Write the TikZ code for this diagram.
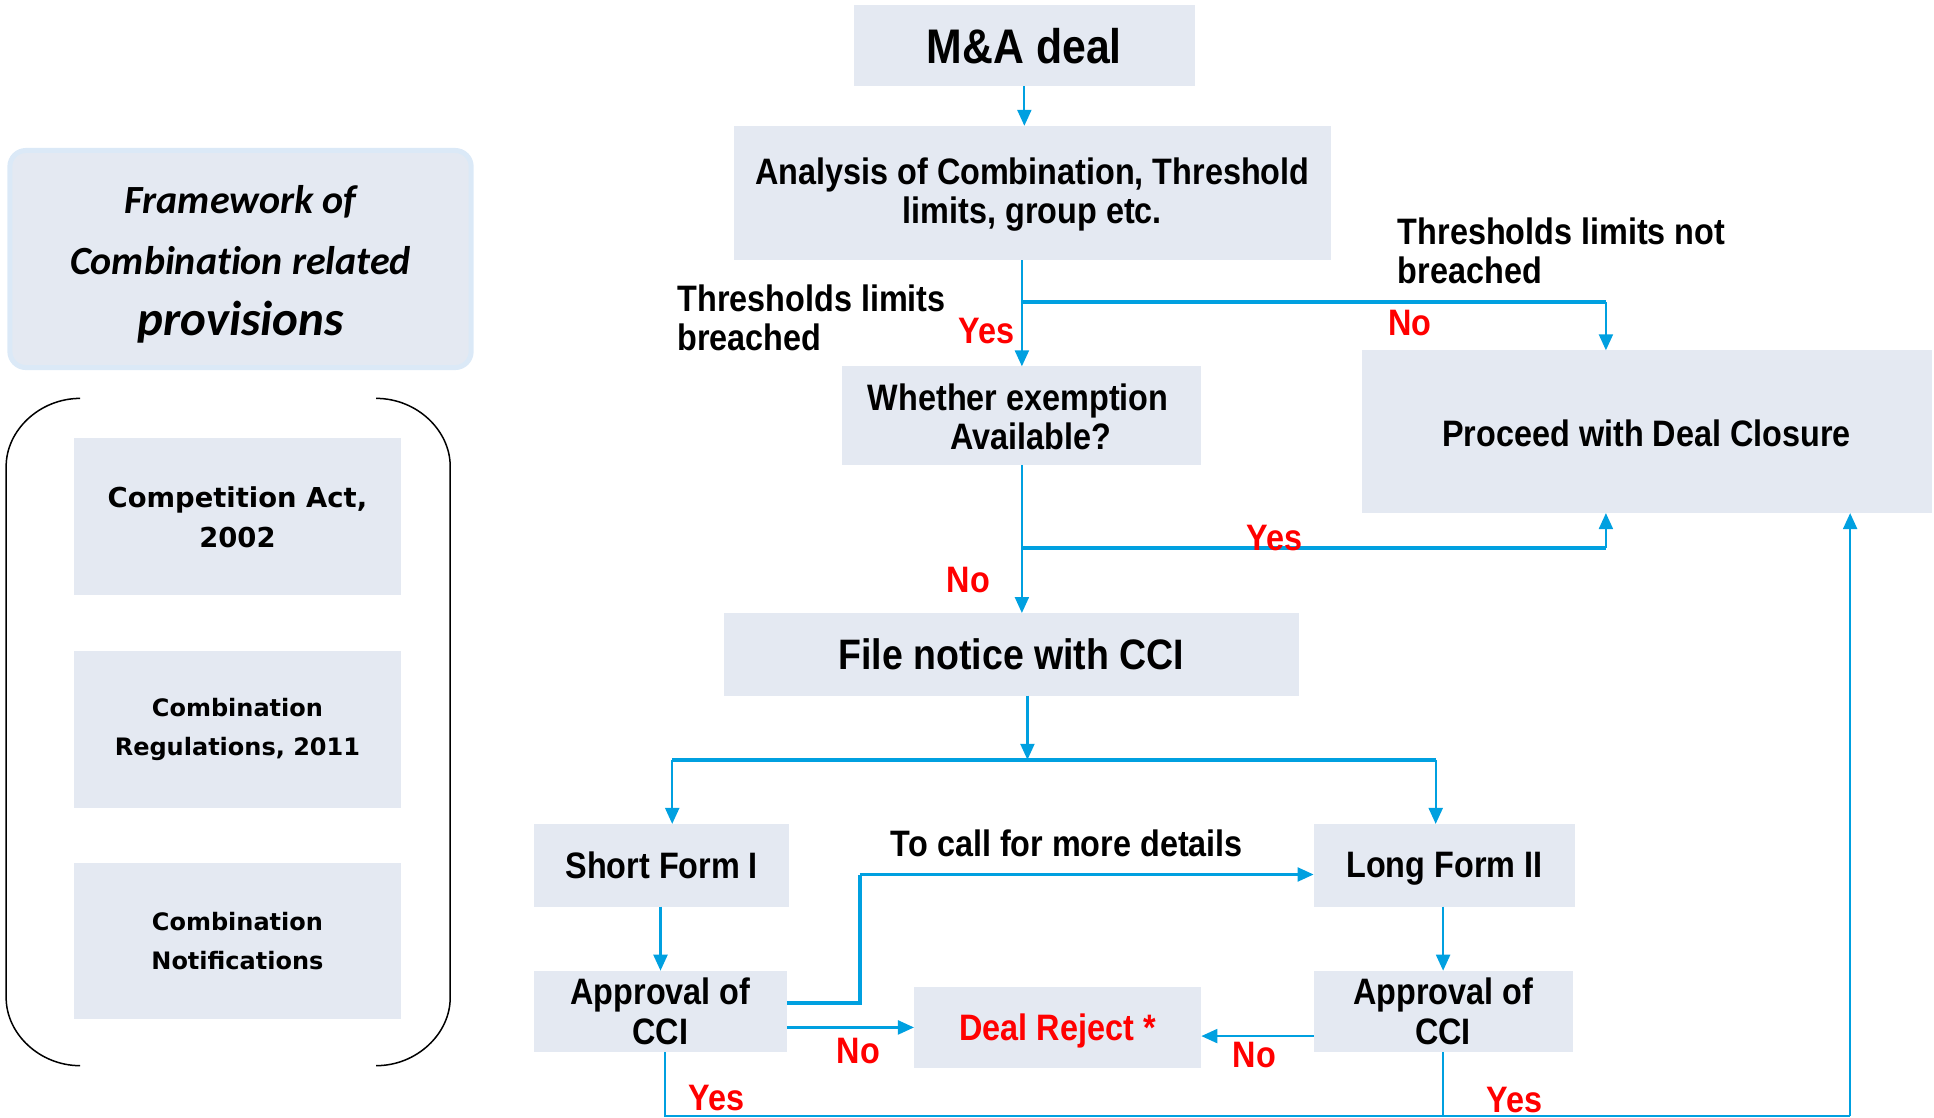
\documentclass[tikz,border=0pt]{standalone}
\usepackage{fontspec}
\usetikzlibrary{arrows.meta,calc,fit}
\newfontfamily\flowfont[FakeStretch=0.88]{Liberation Sans}
\newfontfamily\sidefont{DejaVu Sans}
\newfontfamily\titlefont[Ligatures=NoCommon]{Carlito}
\definecolor{boxfill}{RGB}{228,233,242}
\definecolor{flow}{RGB}{0,160,224}
\definecolor{framebd}{RGB}{219,233,247}
\definecolor{rej}{RGB}{255,0,0}
\newcommand{\flowtext}{\flowfont\bfseries\fontsize{18.4}{19.6}\selectfont}
\begin{document}
\begin{tikzpicture}[x=0.6167pt,y=-0.6167pt,
  box/.style={fill=boxfill, inner sep=0pt, outer sep=0pt},
  txt/.style={inner sep=0pt, align=center, font=\flowtext},
  sidetxt/.style={inner sep=0pt, align=center},
  lbl/.style={inner sep=0pt, align=left, font=\flowtext},
  ans/.style={inner sep=0pt, text=rej, font=\flowtext},
  link/.style={draw=flow, line width=1.1pt},
  heavy/.style={draw=flow, line width=1.9pt},
  arr/.style={link, -{Triangle[length=8pt,width=7pt]}},
]
\useasboundingbox (0,0) rectangle (1568,906);

% ---- left panel: title and legal sources ----
\node[fill=boxfill, draw=framebd, line width=2.5pt, rounded corners=8pt,
      inner sep=0pt, fit={(8,122) (382,298)}] (fw) {};
\node[inner sep=0pt, align=center, font=\titlefont\bfseries\itshape\fontsize{20}{30.5}\selectfont]
  (fwt) at ($(fw.center)+(0,4)$)
  {Framework of\\Combination related\\{\fontsize{24.5}{30.5}\selectfont provisions}};

\draw[black, line width=0.75pt]
  (65,323) .. controls (32,323) and (5,349) .. (5,378) -- (5,809)
  .. controls (5,838) and (32,864) .. (65,864);
\draw[black, line width=0.75pt]
  (305,323) .. controls (338,323) and (365,349) .. (365,378) -- (365,809)
  .. controls (365,838) and (338,864) .. (305,864);

\node[box, fit={(60,355) (325,482)}] (act) {};
\node[sidetxt, font=\sidefont\bfseries\fontsize{13.7}{19.7}\selectfont] at ($(act.center)+(0,1)$) {Competition Act,\\2002};
\node[box, fit={(60,528) (325,655)}] (reg) {};
\node[sidetxt, font=\sidefont\bfseries\fontsize{12}{19.7}\selectfont] at (reg.center) {Combination\\Regulations, 2011};
\node[box, fit={(60,700) (325,826)}] (notif) {};
\node[sidetxt, font=\sidefont\bfseries\fontsize{12}{19.7}\selectfont] at (notif.center) {Combination\\Notifications};

% ---- flow chart boxes ----
\node[box, fit={(692,4) (969,70)}] (ma) {};
\node[txt, font=\flowfont\bfseries\fontsize{24.3}{26}\selectfont] at (ma.center) {M\&A deal};
\node[box, fit={(595,102) (1079,211)}] (an) {};
\node[txt] at ($(an.center)+(0,1)$) {Analysis of Combination, Threshold\\limits, group etc.};
\node[box, fit={(683,297) (974,377)}] (wh) {};
\node[txt] at ($(wh.center)+(-3,1)$) {Whether exemption\\\hspace*{0.7em}Available?};
\node[box, fit={(1104,284) (1566,416)}] (pr) {};
\node[txt] at ($(pr.center)+(0,1)$) {Proceed with Deal Closure};
\node[box, fit={(587,497) (1053,564)}] (fn) {};
\node[txt, font=\flowfont\bfseries\fontsize{21.3}{23}\selectfont] at (fn.center) {File notice with CCI};
\node[box, fit={(433,668) (640,735)}] (sf) {};
\node[txt] at (sf.center) {Short Form I};
\node[box, fit={(1065,668) (1277,735)}] (lf) {};
\node[txt] at ($(lf.center)+(0,3)$) {Long Form II};
\node[box, fit={(433,787) (638,853)}] (al) {};
\node[txt] at (al.center) {Approval of\\CCI};
\node[box, fit={(1065,787) (1275,853)}] (ar) {};
\node[txt] at (ar.center) {Approval of\\CCI};
\node[box, fit={(741,800) (974,866)}] (dr) {};
\node[txt, text=rej] at ($(dr.center)+(0,3)$) {Deal Reject *};

% ---- junction points ----
\coordinate (j1) at (828.5,245);
\coordinate (j2) at (1302,245);
\coordinate (j3) at (828.5,444);
\coordinate (j4) at (1302,444);
\coordinate (j5) at (833,616);
\coordinate (j6) at (545,616);
\coordinate (j7) at (1164,616);
\coordinate (t1) at (697,709);
\coordinate (y1) at (539,905);
\coordinate (y2) at (1500,905);

% ---- connectors ----
\draw[arr] (ma.south) -- (ma.south |- an.north);
\draw[arr] (an.south -| wh.north) -- (wh.north);
\draw[heavy] (j1) -- (j2);
\draw[arr] (j2) -- (j2 |- pr.north);
\draw[arr] (wh.south) -- (wh.south |- fn.north);
\draw[heavy] (j3) -- (j4);
\draw[arr] (j4) -- (j4 |- pr.south);
\draw[arr] (fn.south -| j5) -- (j5);
\draw[heavy] (j6) -- (j7);
\draw[arr] (j6) -- (j6 |- sf.north);
\draw[arr] (j7) -- (j7 |- lf.north);
\draw[arr] (sf.south -| al.north) -- (al.north);
\draw[arr] (lf.south -| ar.north) -- (ar.north);
\draw[heavy] ($(al.east)+(0,-7)$) -| (t1);
\draw[arr] (t1) -- (t1 -| lf.west);
\draw[arr] (al.east |- dr.west) -- (dr.west);
\draw[arr] ($(ar.west)+(0,20)$) -- ($(dr.east)+(0,7)$);
\draw[link] (al.south -| y1) -- (y1) -- (y2);
\draw[arr] (y2) -- (y2 |- pr.south);
\draw[link] (ar.south) -- (ar.south |- y1);

% ---- labels ----
\node[lbl, anchor=west] (brl) at (549,257.5) {Thresholds limits\\breached};
\node[lbl, anchor=west] (nbl) at (1133,203.5) {Thresholds limits not\\breached};
\node[ans] (yes1) at (800,268) {Yes};
\node[ans] (no1) at (1143,262) {No};
\node[ans] (yes2) at (1033,436) {Yes};
\node[ans] (no2) at (785,470) {No};
\node[lbl] (call) at (865,684) {To call for more details};
\node[ans] (no3) at (696,852) {No};
\node[ans] (no4) at (1017,855) {No};
\node[ans] (yes3) at (581,890) {Yes};
\node[ans] (yes4) at (1228,892) {Yes};
\end{tikzpicture}
\end{document}
